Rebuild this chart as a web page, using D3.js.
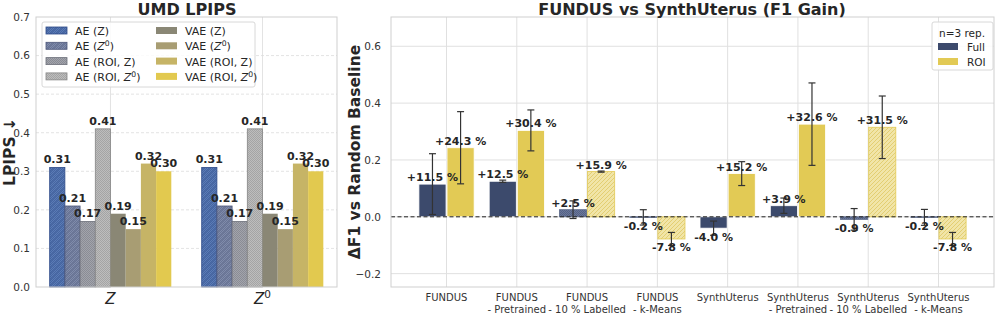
<!DOCTYPE html>
<html>
<head>
<meta charset="UTF-8">
<script src="https://cdn.jsdelivr.net/npm/d3@7"></script>
<style>
  body { margin: 0; background: #fff; }
  svg text { font-family: "DejaVu Sans", sans-serif; fill: #262626; }
</style>
</head>
<body>
<svg id="chart" width="997" height="317"></svg>
<script>

// ---- left panel : UMD LPIPS ----
var lpipsGroups = ["Z", "Z0"];
var lpipsSeries = ["AE (Z)", "AE (Z0)", "AE (ROI, Z)", "AE (ROI, Z0)",
                   "VAE (Z)", "VAE (Z0)", "VAE (ROI, Z)", "VAE (ROI, Z0)"];
var lpipsZ  = [0.31, 0.21, 0.17, 0.41, 0.19, 0.15, 0.32, 0.30];
var lpipsZ0 = [0.31, 0.21, 0.17, 0.41, 0.19, 0.15, 0.32, 0.30];
var lpipsTicks = [0, 0.1, 0.2, 0.3, 0.4, 0.5, 0.6, 0.7];

// ---- right panel : F1 gain ----
var f1Categories = ["FUNDUS", "FUNDUS\n- Pretrained", "FUNDUS\n- 10 % Labelled", "FUNDUS\n- k-Means",
                    "SynthUterus", "SynthUterus\n- Pretrained", "SynthUterus\n- 10 % Labelled", "SynthUterus\n- k-Means"];
var f1Full    = [0.115, 0.125, 0.025, -0.002, -0.040, 0.039, -0.009, -0.002];
var f1FullErr = [0.107, 0.004, 0.031, 0.027, 0.025, 0.027, 0.038, 0.028];
var f1Roi     = [0.243, 0.304, 0.159, -0.078, 0.152, 0.326, 0.315, -0.078];
var f1RoiErr  = [0.127, 0.072, 0.002, 0.023, 0.042, 0.145, 0.110, 0.023];
var f1Ticks = [-0.2, 0, 0.2, 0.4, 0.6];

var svg = d3.select("#chart");
svg.append("rect").attr("width", 997).attr("height", 317).attr("fill", "#fff");
var defs = svg.append("defs");

// colours
var lpipsColors = ["#5b7cb6", "#808cab", "#a2a4ab", "#bdbdbd", "#8a8775", "#a89d73", "#c6b466", "#e2c94f"];
var lpipsEdges  = ["#2d4a88", "#4d577a", "#6d707a", "#858585", null, null, null, null];
var fullColor = "#3c4a6c", roiColor = "#e2ca55";

// checker (dotted) hatch like matplotlib '....'
function checker(id, base, dot, diag) {
  var p = defs.append("pattern").attr("id", id).attr("patternUnits", "userSpaceOnUse")
    .attr("width", 6).attr("height", 6);
  p.append("rect").attr("width", 6).attr("height", 6).attr("fill", base);
  for (var i = 0; i < 6; i++)
    for (var j = 0; j < 6; j++)
      if ((i + j) % 2 == 0)
        p.append("rect").attr("x", i).attr("y", j).attr("width", 1).attr("height", 1)
          .attr("fill", dot).attr("opacity", 0.45);
  if (diag) {
    p.append("path").attr("d", "M0,6 L6,0 M-1,1 L1,-1 M5,7 L7,5")
      .attr("stroke", dot).attr("stroke-width", 1).attr("opacity", 0.35);
  }
}
lpipsColors.forEach(function (c, i) {
  if (i < 4) checker("lp" + i, c, lpipsEdges[i], i < 2);
});
checker("hFull", "#6a779a", fullColor, false);

var hr = defs.append("pattern").attr("id", "hRoi").attr("patternUnits", "userSpaceOnUse")
  .attr("width", 4).attr("height", 4);
hr.append("rect").attr("width", 4).attr("height", 4).attr("fill", "#f1e5a8");
hr.append("path").attr("d", "M0,4 L4,0 M-1,1 L1,-1 M3,5 L5,3")
  .attr("stroke", "#e0c865").attr("stroke-width", 0.8);

// superscript helper for "Z0"
function richText(sel, s) {
  var parts = s.split("Z0");
  parts.forEach(function (p, i) {
    if (p) sel.append("tspan").text(p);
    if (i < parts.length - 1) {
      sel.append("tspan").attr("font-style", "italic").text("Z");
      sel.append("tspan").attr("baseline-shift", "super").attr("font-size", "0.7em").text("0");
    }
  });
}

// ================= LEFT PANEL =================
var L = { left: 36, right: 337, top: 17, bottom: 287 };
var xL = d3.scaleLinear().domain([-0.49, 1.49]).range([L.left, L.right]);
var yL = d3.scaleLinear().domain([0, 0.7]).range([L.bottom, L.top]);
var gL = svg.append("g");

// grid
gL.selectAll(".hg").data(lpipsTicks.slice(1, -1)).enter().append("line")
  .attr("x1", L.left).attr("x2", L.right).attr("y1", yL).attr("y2", yL)
  .attr("stroke", "#dcdcdc").attr("stroke-dasharray", "3,2").attr("stroke-width", 0.8);
gL.selectAll(".vg").data(lpipsGroups).enter().append("line")
  .attr("x1", function (d, i) { return xL(i); }).attr("x2", function (d, i) { return xL(i); })
  .attr("y1", L.top).attr("y2", L.bottom).attr("stroke", "#dcdcdc").attr("stroke-width", 0.8);

// bars, then labels on top
var bw = 0.1;
var barsL = gL.append("g"), labsL = gL.append("g");
[lpipsZ, lpipsZ0].forEach(function (vals, gi) {
  vals.forEach(function (v, si) {
    var x0 = xL(gi + (si - 3.5) * bw - bw / 2);
    var w = xL(bw) - xL(0);
    barsL.append("rect").attr("x", x0).attr("y", yL(v)).attr("width", w).attr("height", yL(0) - yL(v))
      .attr("fill", si < 4 ? "url(#lp" + si + ")" : lpipsColors[si])
      .attr("stroke", lpipsEdges[si] || "none").attr("stroke-width", 0.8);
    labsL.append("text").attr("x", x0 + w / 2).attr("y", yL(v) - 4)
      .attr("text-anchor", "middle").attr("font-size", 11).attr("font-weight", "bold")
      .text(d3.format(".2f")(v));
  });
});

// axes
var axL = d3.axisLeft(yL).tickValues(lpipsTicks).tickFormat(d3.format(".1f")).tickSize(0).tickPadding(6);
gL.append("g").attr("transform", "translate(" + L.left + ",0)").call(axL)
  .call(function (g) { g.select(".domain").remove(); })
  .selectAll("text").attr("font-size", 10.5).style("fill", "#333");
gL.append("rect").attr("x", L.left).attr("y", L.top).attr("width", L.right - L.left)
  .attr("height", L.bottom - L.top).attr("fill", "none").attr("stroke", "#cfcfcf").attr("stroke-width", 1);

lpipsGroups.forEach(function (g, i) {
  var t = gL.append("text").attr("x", xL(i)).attr("y", 304).attr("text-anchor", "middle")
    .attr("font-size", 15);
  richText(t, g);
  if (g == "Z") t.attr("font-style", "italic");
});

gL.append("text").attr("x", 187).attr("y", 15).attr("text-anchor", "middle")
  .attr("font-size", 16).attr("font-weight", "bold").text("UMD LPIPS");
gL.append("text").attr("transform", "translate(15,152) rotate(-90)").attr("text-anchor", "middle")
  .attr("font-size", 15.5).attr("font-weight", "bold").text("LPIPS ↓");

// legend
var lg = gL.append("g");
lg.append("rect").attr("x", 42).attr("y", 22).attr("width", 213).attr("height", 65).attr("rx", 2)
  .attr("fill", "#fff").attr("fill-opacity", 0.85).attr("stroke", "#d8d8d8");
lpipsSeries.forEach(function (s, i) {
  var col = Math.floor(i / 4), row = i % 4;
  var px = col ? 156 : 46, py = 27 + row * 15.3;
  lg.append("rect").attr("x", px).attr("y", py).attr("width", 21).attr("height", 7)
    .attr("fill", i < 4 ? "url(#lp" + i + ")" : lpipsColors[i])
    .attr("stroke", lpipsEdges[i] || "none").attr("stroke-width", 0.8);
  var t = lg.append("text").attr("x", px + 29).attr("y", py + 8).attr("font-size", 11);
  richText(t, s);
});

// ================= RIGHT PANEL =================
var R = { left: 391, right: 994, top: 17, bottom: 287 };
var xR = d3.scaleLinear().domain([-0.79, 7.79]).range([R.left, R.right]);
var yR = d3.scaleLinear().domain([-0.247, 0.703]).range([R.bottom, R.top]);
var gR = svg.append("g");

gR.selectAll(".hg").data(f1Ticks).enter().append("line")
  .attr("x1", R.left).attr("x2", R.right).attr("y1", yR).attr("y2", yR)
  .attr("stroke", "#e0e0e0").attr("stroke-width", 1);
gR.selectAll(".vg").data(f1Categories).enter().append("line")
  .attr("x1", function (d, i) { return xR(i); }).attr("x2", function (d, i) { return xR(i); })
  .attr("y1", R.top).attr("y2", R.bottom).attr("stroke", "#e0e0e0").attr("stroke-width", 1);

var bw2 = 0.4;
function isHatched(c) { return c.indexOf("10 %") >= 0 || c.indexOf("k-Means") >= 0; }
function pct(v) { return (v >= 0 ? "+" : "") + (v * 100).toFixed(1) + " %"; }

var series = [
  { vals: f1Full, errs: f1FullErr, off: -bw2 / 2, color: fullColor, hatch: "url(#hFull)", edge: "#5a6888" },
  { vals: f1Roi,  errs: f1RoiErr,  off:  bw2 / 2, color: roiColor,  hatch: "url(#hRoi)",  edge: "#e2ca55" }
];
var barsR = gR.append("g"), errsR = gR.append("g"), labsR = gR.append("g");
series.forEach(function (s) {
  s.vals.forEach(function (v, i) {
    var h = isHatched(f1Categories[i]);
    var x0 = xR(i + s.off - bw2 / 2), w = xR(bw2) - xR(0);
    barsR.append("rect").attr("x", x0 + 0.5).attr("width", w - 1)
      .attr("y", yR(Math.max(v, 0))).attr("height", Math.abs(yR(v) - yR(0)))
      .attr("fill", h ? s.hatch : s.color)
      .attr("stroke", h ? s.edge : "#fff").attr("stroke-width", 0.8);
    var cx = xR(i + s.off), e = s.errs[i];
    errsR.append("line").attr("x1", cx).attr("x2", cx).attr("y1", yR(v - e)).attr("y2", yR(v + e));
    [v - e, v + e].forEach(function (c) {
      errsR.append("line").attr("x1", cx - 3.5).attr("x2", cx + 3.5).attr("y1", yR(c)).attr("y2", yR(c));
    });
    labsR.append("text").attr("x", cx).attr("y", v >= 0 ? yR(v) - 3 : yR(v) + 12.5)
      .attr("text-anchor", "middle").attr("font-size", 11).attr("font-weight", "bold")
      .text(pct(v));
  });
});
errsR.selectAll("line").attr("stroke", "#333").attr("stroke-width", 1.2);
barsR.append("line").attr("x1", R.left).attr("x2", R.right).attr("y1", yR(0)).attr("y2", yR(0))
  .attr("stroke", "#222").attr("stroke-width", 1).attr("stroke-dasharray", "4,2.5");

var axR = d3.axisLeft(yR).tickValues(f1Ticks).tickFormat(function (d) { return d3.format(".1f")(d).replace("-", "\u2212"); })
  .tickSize(0).tickPadding(10);
gR.append("g").attr("transform", "translate(" + R.left + ",0)").call(axR)
  .call(function (g) { g.select(".domain").remove(); })
  .selectAll("text").attr("font-size", 10.5).style("fill", "#333");
gR.append("rect").attr("x", R.left).attr("y", R.top).attr("width", R.right - R.left)
  .attr("height", R.bottom - R.top).attr("fill", "none").attr("stroke", "#cfcfcf").attr("stroke-width", 1);
labsR.raise();

f1Categories.forEach(function (c, i) {
  var lines = c.split("\n");
  var t = gR.append("text").attr("text-anchor", "middle").attr("font-size", 10).style("fill", "#333");
  lines.forEach(function (l, k) {
    t.append("tspan").attr("x", xR(i)).attr("y", 301 + k * 11.5).text(l);
  });
});

gR.append("text").attr("x", 692).attr("y", 15).attr("text-anchor", "middle")
  .attr("font-size", 16).attr("font-weight", "bold").text("FUNDUS vs SynthUterus (F1 Gain)");
gR.append("text").attr("transform", "translate(360,152) rotate(-90)").attr("text-anchor", "middle")
  .attr("font-size", 15.5).attr("font-weight", "bold").text("ΔF1 vs Random Baseline");

var lr = gR.append("g");
lr.append("rect").attr("x", 932).attr("y", 22).attr("width", 61).attr("height", 48).attr("rx", 2)
  .attr("fill", "#fff").attr("fill-opacity", 0.85).attr("stroke", "#d8d8d8");
lr.append("text").attr("x", 962).attr("y", 37).attr("text-anchor", "middle").attr("font-size", 10.5).text("n=3 rep.");
[["Full", fullColor], ["ROI", roiColor]].forEach(function (d, i) {
  lr.append("rect").attr("x", 938).attr("y", 43 + i * 15).attr("width", 20).attr("height", 7).attr("fill", d[1]);
  lr.append("text").attr("x", 967).attr("y", 51 + i * 15).attr("font-size", 10.5).text(d[0]);
});

</script>
</body>
</html>
